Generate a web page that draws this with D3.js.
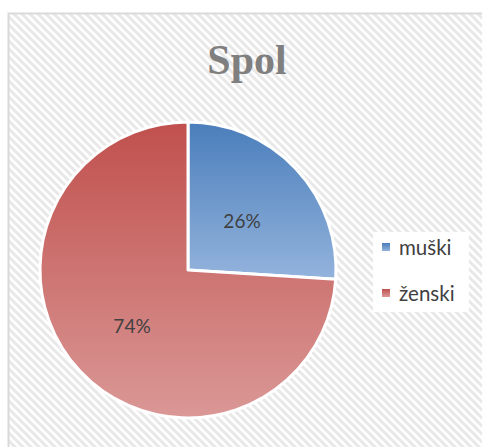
<!DOCTYPE html>
<html><head><meta charset="utf-8">
<script src="https://cdn.jsdelivr.net/npm/d3@7"></script>
<style>html,body{margin:0;padding:0;background:#fff;}svg{display:block;}</style>
</head><body>
<script>
const title = "Spol";
const categories = ["muški", "ženski"];
const values = [26, 74];
const labels = ["26%", "74%"];
const gradTop = ["#4a7ebb", "#c0504d"];
const gradBottom = ["#93b3dc", "#da9896"];

const W = 482, H = 447;
const svg = d3.select("body").append("svg").attr("width", W).attr("height", H);
const defs = svg.append("defs");

const pat = defs.append("pattern").attr("id", "hatch").attr("patternUnits", "userSpaceOnUse")
  .attr("width", 8).attr("height", 8);
pat.append("rect").attr("width", 8).attr("height", 8).attr("fill", "#ffffff");
pat.append("path").attr("d", "M-2,-2 L10,10 M-2,6 L2,10 M6,-2 L10,2")
  .attr("stroke", "#e8e8e8").attr("stroke-width", 3);

svg.append("rect").attr("x", 8.5).attr("y", 13.5).attr("width", 490).attr("height", 450)
  .attr("fill", "url(#hatch)").attr("stroke", "#d9d9d9").attr("stroke-width", 2);

svg.append("text").attr("x", 247).attr("y", 74).attr("text-anchor", "middle")
  .attr("font-family", "'Liberation Serif', serif").attr("font-weight", "bold")
  .attr("font-size", 42).attr("fill", "#7f7f7f").text(title);

const cx = 188, cy = 270, r = 148;
const pie = d3.pie().sort(null).value(d => d)(values);
const arc = d3.arc().innerRadius(0).outerRadius(r);

pie.forEach((p, i) => {
  const g = defs.append("linearGradient").attr("id", "g" + i)
    .attr("x1", 0).attr("y1", 0).attr("x2", 0).attr("y2", 1);
  g.append("stop").attr("offset", "0%").attr("stop-color", gradTop[i]);
  g.append("stop").attr("offset", "100%").attr("stop-color", gradBottom[i]);
});

const gp = svg.append("g").attr("transform", `translate(${cx},${cy})`);
gp.selectAll("path").data(pie).join("path")
  .attr("d", arc).attr("fill", (d, i) => `url(#g${i})`)
  .attr("stroke", "#ffffff").attr("stroke-width", 3).attr("stroke-linejoin", "round");

const labelPos = [[54, -42], [-56, 63]];
gp.selectAll("text.lbl").data(pie).join("text").attr("class", "lbl")
  .attr("x", (d, i) => labelPos[i][0]).attr("y", (d, i) => labelPos[i][1])
  .attr("text-anchor", "middle")
  .attr("font-family", "Lato, 'Open Sans', sans-serif").attr("font-size", 19)
  .attr("fill", "#404040").text((d, i) => labels[i]);

const leg = svg.append("g");
leg.append("rect").attr("x", 373).attr("y", 232).attr("width", 96).attr("height", 80).attr("fill", "#ffffff");
categories.forEach((c, i) => {
  const y = 243 + i * 46;
  leg.append("rect").attr("x", 382).attr("y", y).attr("width", 8).attr("height", 8)
    .attr("fill", `url(#g${i})`);
  leg.append("text").attr("x", 399).attr("y", y + 12)
    .attr("font-family", "Lato, 'Open Sans', sans-serif").attr("font-size", 20.5)
    .attr("fill", "#404040").text(c);
});
</script>
</body></html>
